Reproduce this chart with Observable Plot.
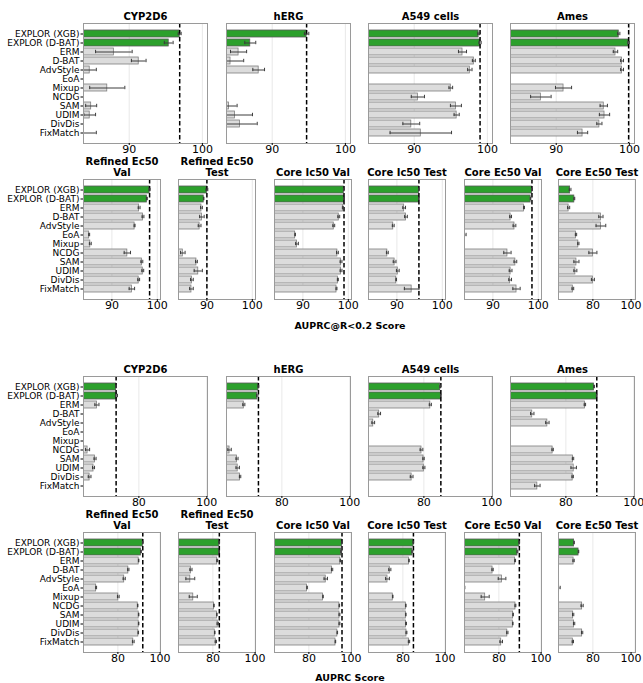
<!DOCTYPE html>
<html><head><meta charset="utf-8">
<script src="https://cdn.jsdelivr.net/npm/d3@7"></script>
<script src="https://cdn.jsdelivr.net/npm/@observablehq/plot@0.6"></script>
<style>
body{margin:0;background:#fff;}
#wrap{position:relative;width:643px;height:683px;overflow:hidden;font-family:"DejaVu Sans",sans-serif;}
#wrap svg{position:absolute;}
.xlab{position:absolute;font-weight:bold;font-size:9.5px;transform:translate(-50%,-50%);white-space:nowrap;color:#000;}
</style></head><body><div id="wrap"></div>
<script>
// ---------- data ----------
const methods = ["EXPLOR (XGB)", "EXPLOR (D-BAT)", "ERM", "D-BAT", "AdvStyle", "EoA", "Mixup", "NCDG", "SAM", "UDIM", "DivDis", "FixMatch"];
const panelsTop = ["CYP2D6", "hERG", "A549 cells", "Ames"];
const panelsBottom = ["Refined Ec50\nVal", "Refined Ec50\nTest", "Core Ic50 Val", "Core Ic50 Test", "Core Ec50 Val", "Core Ec50 Test"];
const metricLabels = ["AUPRC@R<0.2 Score", "AUPRC Score"];
const ticksR02 = [90, 100];
const ticksAUPRC = [80, 100];

// AUPRC@R<0.2
const r02_CYP2D6 = [96.9, 95.4, 87.9, 91.3, 84.6, null, 87.0, null, 84.8, 84.6, null, 83.4];
const r02_CYP2D6_err = [0.2, 0.6, 2.5, 1.0, 0.9, null, 2.4, null, 0.75, 0.8, null, 2.1];
const r02_hERG = [94.7, 87.0, 85.4, 84.3, 88.15, null, null, null, 84.1, 84.9, 85.6, null];
const r02_hERG_err = [0.3, 0.75, 1.1, 1.8, 0.8, null, null, null, 1.1, 2.4, 2.35, null];
const r02_A549 = [98.8, 99.0, 96.6, 98.15, 97.6, null, 95.0, 90.5, 95.7, 95.8, 89.6, 90.9];
const r02_A549_err = [0.1, 0.15, 0.55, 0.2, 0.3, null, 0.25, 0.9, 0.75, 0.35, 1.15, 4.2];
const r02_Ames = [98.55, 99.9, 98.1, 99.0, 99.0, null, 91.0, 87.9, 96.5, 96.6, 95.9, 93.6];
const r02_Ames_err = [0.15, 0.1, 0.3, 0.2, 0.2, null, 1.1, 1.4, 0.5, 0.7, 0.35, 0.7];
const r02_RefEc50Val = [98.3, 97.7, 96.0, 96.85, 95.0, 85.0, 85.25, 93.4, 96.6, 96.8, 95.9, 94.4];
const r02_RefEc50Val_err = [0.1, 0.1, 0.2, 0.2, 0.1, 0.1, 0.2, 0.7, 0.2, 0.2, 0.2, 0.6];
const r02_RefEc50Test = [90.0, 89.3, 88.8, 88.9, 88.4, null, null, 84.7, 87.7, 88.1, 86.7, 86.6];
const r02_RefEc50Test_err = [0.2, 0.05, 0.2, 0.5, 0.3, null, null, 0.5, 0.2, 0.9, 0.3, 0.4];
const r02_CoreIc50Val = [99.0, 99.05, 98.8, 97.9, 96.8, 88.3, 88.7, 97.6, 98.4, 98.4, 97.7, 97.4];
const r02_CoreIc50Val_err = [0.05, 0.1, 0.1, 0.2, 0.2, 0.05, 0.3, 0.2, 0.2, 0.2, 0.1, 0.1];
const r02_CoreIc50Test = [94.85, 94.85, 91.6, 92.0, 89.2, null, null, 87.9, 89.5, 90.2, 89.85, 93.25];
const r02_CoreIc50Test_err = [0.05, 0.05, 0.3, 0.3, 0.2, null, null, 0.2, 0.3, 0.3, 0.05, 1.6];
const r02_CoreEc50Val = [98.6, 98.3, 96.85, 93.9, 94.75, 83.6, null, 93.2, 94.95, 93.9, 93.8, 95.2];
const r02_CoreEc50Val_err = [0.1, 0.05, 0.1, 0.2, 0.3, 0.5, null, 0.8, 0.3, 0.3, 0.3, 0.8];
const r02_CoreEc50Test = [69.2, 71.2, 68.5, 83.8, 83.8, 72.0, 73.1, 80.0, 72.2, 71.7, 80.0, 70.5];
const r02_CoreEc50Test_err = [0.4, 0.2, 0.5, 1.0, 2.3, 0.3, 0.3, 1.9, 1.2, 0.7, 0.7, 0.4];
const r02_best = [96.9, 94.7, 99.0, 99.9, 98.3, 90.0, 99.05, 94.85, 98.6, null];

// AUPRC
const au_CYP2D6 = [73.3, 73.4, 67.65, null, null, null, null, 64.9, 67.1, 66.65, 65.5, null];
const au_CYP2D6_err = [0.1, 0.3, 0.6, null, null, null, null, 0.6, 0.3, 0.3, 0.4, null];
const au_hERG = [73.1, 72.75, 68.8, null, null, null, null, 64.6, 66.8, 67.0, 67.7, null];
const au_hERG_err = [0.1, 0.2, 0.3, null, null, null, null, 0.5, 0.3, 0.5, 0.2, null];
const au_A549 = [84.8, 85.0, 81.9, 66.85, 65.1, null, null, 79.3, 79.9, 80.0, 76.4, null];
const au_A549_err = [0.1, 0.1, 0.3, 0.4, 0.4, null, null, 0.4, 0.2, 0.3, 0.4, null];
const au_Ames = [88.3, 89.1, 85.6, 70.1, 74.55, null, null, 76.1, 82.1, 82.3, 82.0, 71.6];
const au_Ames_err = [0.1, 0.1, 0.2, 0.5, 0.5, null, null, 0.2, 0.2, 0.8, 0.2, 0.8];
const au_RefEc50Val = [91.8, 90.95, 89.85, 84.95, 83.0, 69.7, 80.2, 89.4, 89.85, 89.85, 89.7, 87.3];
const au_RefEc50Val_err = [0.05, 0.2, 0.1, 0.3, 0.5, 0.2, 0.4, 0.1, 0.1, 0.1, 0.1, 0.4];
const au_RefEc50Test = [83.05, 83.0, 82.05, 69.6, 69.3, null, 70.7, 80.5, 81.9, 82.3, 80.9, 81.4];
const au_RefEc50Test_err = [0.05, 0.1, 0.2, 0.5, 2.1, null, 1.9, 0.1, 0.1, 0.3, 0.1, 0.3];
const au_CoreIc50Val = [95.7, 95.3, 94.9, 91.0, 88.0, 79.15, 86.7, 94.45, 94.5, 94.5, 93.5, 92.6];
const au_CoreIc50Val_err = [0.05, 0.2, 0.1, 0.3, 0.8, 0.1, 0.1, 0.1, 0.2, 0.2, 0.1, 0.1];
const au_CoreIc50Test = [85.0, 84.5, 82.9, 73.8, 72.7, null, 75.2, 81.4, 81.4, 81.5, 81.7, 82.9];
const au_CoreIc50Test_err = [0.05, 0.2, 0.1, 0.5, 0.9, null, 0.1, 0.1, 0.1, 0.2, 0.2, 0.3];
const au_CoreEc50Val = [89.7, 88.8, 87.7, 77.0, 81.5, 63.5, 73.5, 87.85, 86.75, 86.6, 84.0, 81.1];
const au_CoreEc50Val_err = [0.05, 0.2, 0.2, 0.3, 1.8, 0.35, 1.9, 0.2, 0.1, 0.1, 0.3, 0.6];
const au_CoreEc50Test = [71.1, 73.2, 70.85, null, null, 64.0, null, 74.9, 70.65, 71.1, 74.9, 70.5];
const au_CoreEc50Test_err = [0.1, 0.1, 0.3, null, null, 0.5, null, 0.5, 0.3, 0.3, 0.3, 0.3];
const au_best = [73.3, 73.1, 85.0, 89.1, 91.8, 83.05, 95.7, 85.0, 89.7, null];

// ---------- layout ----------
const frameTops = [23, 179, 376, 532];
const frameH = 120;
const cols4 = [83, 226, 368, 510], w4 = 124;
const cols6 = [83, 178, 273.5, 368, 463.5, 558], w6 = 77;
const domHigh = [83.75, 100.7], domLow = [63.7, 100.2];

const r02Vals = [[r02_CYP2D6, r02_CYP2D6_err], [r02_hERG, r02_hERG_err], [r02_A549, r02_A549_err], [r02_Ames, r02_Ames_err],
  [r02_RefEc50Val, r02_RefEc50Val_err], [r02_RefEc50Test, r02_RefEc50Test_err], [r02_CoreIc50Val, r02_CoreIc50Val_err],
  [r02_CoreIc50Test, r02_CoreIc50Test_err], [r02_CoreEc50Val, r02_CoreEc50Val_err], [r02_CoreEc50Test, r02_CoreEc50Test_err]];
const auVals = [[au_CYP2D6, au_CYP2D6_err], [au_hERG, au_hERG_err], [au_A549, au_A549_err], [au_Ames, au_Ames_err],
  [au_RefEc50Val, au_RefEc50Val_err], [au_RefEc50Test, au_RefEc50Test_err], [au_CoreIc50Val, au_CoreIc50Val_err],
  [au_CoreIc50Test, au_CoreIc50Test_err], [au_CoreEc50Val, au_CoreEc50Val_err], [au_CoreEc50Test, au_CoreEc50Test_err]];

const wrap = document.getElementById("wrap");

function panel({title, vals, errs, best, domain, ticks, left, top, width, showY, lastCol}) {
  const ml = showY ? 83 : 1, mr = 12, mt = 32, mb = 22;
  const data = methods.map((m, i) => ({m, v: vals[i], e: errs[i], g: i < 2})).filter(d => d.v != null);
  const lo = domain[0];
  const axisOpts = {tickSize: 2, tickPadding: 0, fontSize: 11, label: null, stroke: "#000", fill: "#000"};
  const marks = [
    Plot.ruleX(ticks, {x: d => d, stroke: "#e2e2e2", strokeWidth: 0.8}),
    Plot.barX(data.filter(d => !d.g), {x1: () => lo, x2: "v", y: "m", fill: "#dcdcdc", stroke: "#7d7d7d", strokeWidth: 0.8, clip: true}),
    Plot.barX(data.filter(d => d.g), {x1: () => lo, x2: "v", y: "m", fill: "#2ca02c", stroke: "#5a5a5a", strokeWidth: 0.8, clip: true}),
    Plot.ruleY(data, {y: "m", x1: d => d.v - d.e, x2: d => d.v + d.e, stroke: "#3c3c3c", strokeWidth: 1, clip: true}),
    Plot.tickX(data, {x: d => d.v - d.e, y: "m", stroke: "#3c3c3c", strokeWidth: 1, insetTop: 1.8, insetBottom: 1.8, clip: true}),
    Plot.tickX(data, {x: d => d.v + d.e, y: "m", stroke: "#3c3c3c", strokeWidth: 1, insetTop: 1.8, insetBottom: 1.8, clip: true}),
    Plot.frame({stroke: "#9a9a9a", strokeWidth: 1}),
    Plot.text([title], {frameAnchor: "top", dy: -4, lineAnchor: "bottom", lineHeight: 1.06, fontWeight: "bold", fontSize: 10, fill: "#000"})
  ];
  if (lastCol) {
    marks.push(Plot.axisX(ticks.slice(0, -1), axisOpts));
    marks.push(Plot.axisX(ticks.slice(-1), {...axisOpts, dx: -4}));
  } else {
    marks.push(Plot.axisX(ticks, axisOpts));
  }
  if (best != null) marks.splice(3, 0, Plot.ruleX([best], {x: d => d, stroke: "#000", strokeWidth: 1.5, strokeDasharray: "4.5,2.5"}));
  if (showY) marks.push(Plot.axisY({tickSize: 2.5, tickPadding: 1.5, fontSize: 9, label: null, stroke: "#000", fill: "#000"}));
  const svg = Plot.plot({
    width: width + ml + mr, height: frameH + mt + mb,
    marginLeft: ml, marginRight: mr, marginTop: mt, marginBottom: mb,
    style: {background: "none", fontFamily: "DejaVu Sans, sans-serif", color: "#000", overflow: "visible"},
    x: {domain, label: null, axis: null},
    y: {domain: methods, paddingInner: 0.2, paddingOuter: 0.59, label: null, axis: null},
    marks
  });
  svg.style.left = (left - ml) + "px";
  svg.style.top = (top - mt) + "px";
  wrap.appendChild(svg);
}

function half(vals, best, ticks, rowA, rowB) {
  panelsTop.forEach((t, i) => panel({title: t, vals: vals[i][0], errs: vals[i][1], best: best[i],
    domain: ticks[0] === 90 ? domHigh : domLow, ticks, left: cols4[i], top: frameTops[rowA], width: w4, showY: i === 0, lastCol: false}));
  panelsBottom.forEach((t, j) => {
    const i = j + 4;
    const low = ticks[0] !== 90 || j === 5;
    panel({title: t, vals: vals[i][0], errs: vals[i][1], best: best[i],
      domain: low ? domLow : domHigh, ticks: low ? ticksAUPRC : ticksR02, left: cols6[j], top: frameTops[rowB], width: w6,
      showY: j === 0, lastCol: j === 5});
  });
}
half(r02Vals, r02_best, ticksR02, 0, 1);
half(auVals, au_best, ticksAUPRC, 2, 3);

[[metricLabels[0], 325], [metricLabels[1], 677]].forEach(([txt, y]) => {
  const d = document.createElement("div");
  d.className = "xlab"; d.textContent = txt;
  d.style.left = "350px"; d.style.top = y + "px";
  wrap.appendChild(d);
});
</script></body></html>
